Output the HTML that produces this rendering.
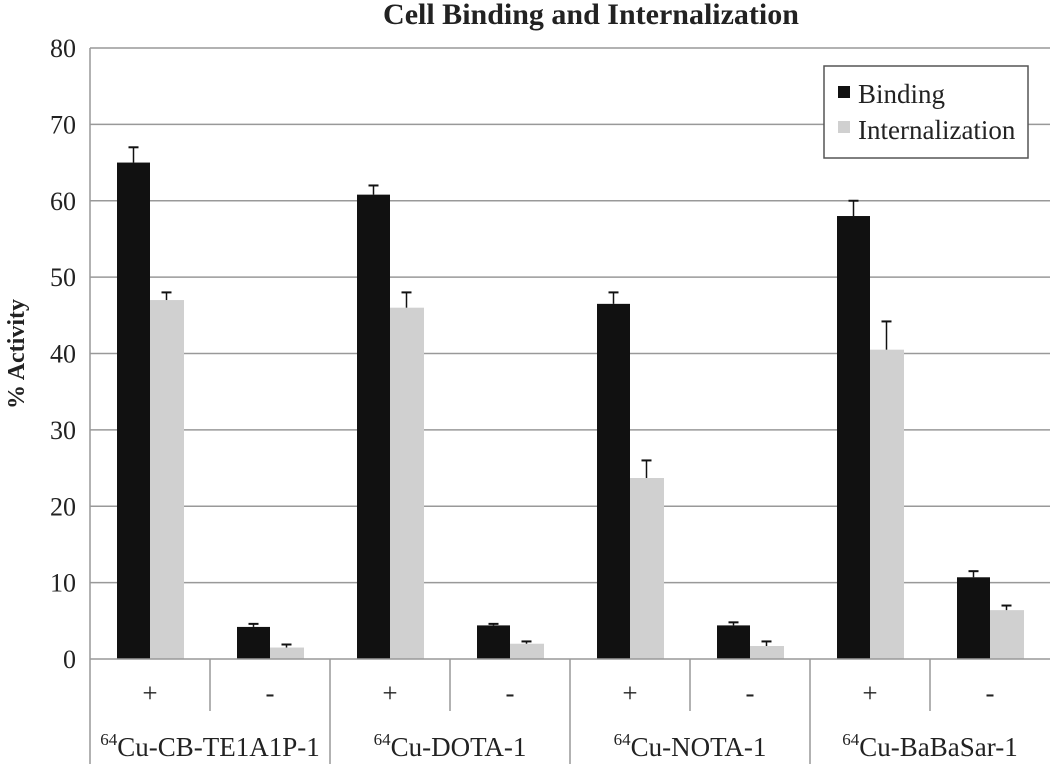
<!DOCTYPE html>
<html><head><meta charset="utf-8"><style>
body{margin:0;background:#fff}
svg text{font-family:"Liberation Serif",serif;fill:#222}
</style></head><body>
<svg id="c" width="1050" height="764" xmlns="http://www.w3.org/2000/svg">
<text x="591" y="24" font-size="30" font-weight="bold" text-anchor="middle">Cell Binding and Internalization</text>
<text transform="translate(24,354) rotate(-90)" font-size="24" font-weight="bold" text-anchor="middle">% Activity</text>
<g id="grid"></g><g id="bars"></g><g id="axes"></g>
<g>
<rect x="824" y="66" width="204" height="92" fill="#fff" stroke="#555" stroke-width="1.5"/>
<rect x="838" y="86" width="12" height="12" fill="#111"/>
<text x="858" y="103" font-size="27">Binding</text>
<rect x="838" y="121" width="12" height="12" fill="#d0d0d0"/>
<text x="858" y="139" font-size="27">Internalization</text>
</g>
</svg>
<script>
const subLabels=["+","-","+","-","+","-","+","-"];
const groupLabels=["Cu-CB-TE1A1P-1","Cu-DOTA-1","Cu-NOTA-1","Cu-BaBaSar-1"];
const binding=[65,4.2,60.8,4.4,46.5,4.4,58,10.7];
const bindingErr=[2,0.4,1.2,0.2,1.5,0.4,2,0.8];
const intern=[47,1.5,46,2,23.7,1.7,40.5,6.4];
const internErr=[1,0.4,2,0.3,2.3,0.6,3.7,0.6];
const yTicks=[0,10,20,30,40,50,60,70,80];
const NS="http://www.w3.org/2000/svg";
const X0=90,X1=1050,Y0=659,Y80=48;
const y=v=>Y0-(Y0-Y80)*v/80;
const cw=(X1-X0)/subLabels.length;
const xc=i=>X0+cw*(i+0.5);
function mk(p,t,a){const e=document.createElementNS(NS,t);for(const k in a)e.setAttribute(k,a[k]);document.getElementById(p).appendChild(e);return e;}
yTicks.forEach(v=>{
 if(v>0){const l=mk('grid','line',{x1:X0,x2:X1,y1:y(v),y2:y(v),stroke:'#999','stroke-width':1.5});
 
 }
 const t=mk('axes','text',{x:X0-14,y:y(v)+9,'font-size':26,'text-anchor':'end'});t.textContent=v;
 
 
});
mk('axes','line',{x1:X0,x2:X0,y1:Y80,y2:764,stroke:'#999','stroke-width':1.5});
mk('axes','line',{x1:X0,x2:X1,y1:Y0,y2:Y0,stroke:'#999','stroke-width':1.5});
subLabels.forEach((s,i)=>{
 const bw=33,cx=xc(i);
 const b=mk('bars','rect',{x:cx-bw,y:y(binding[i]),width:bw,height:Y0-y(binding[i]),fill:'#111'});
 
 
 const g=mk('bars','rect',{x:cx,y:y(intern[i]),width:bw+1,height:Y0-y(intern[i]),fill:'#d0d0d0'});
 
 
 [[cx-bw/2,binding[i],bindingErr[i]],[cx+bw/2,intern[i],internErr[i]]].forEach(([ex,v,e])=>{
  mk('bars','line',{x1:ex,x2:ex,y1:y(v),y2:y(v+e),stroke:'#111','stroke-width':1.5});
  mk('bars','line',{x1:ex-5,x2:ex+5,y1:y(v+e),y2:y(v+e),stroke:'#111','stroke-width':2});
 });
 const t=mk('axes','text',{x:cx,y:702,'font-size':27,'text-anchor':'middle'});t.textContent=s;
 
 
 const sx=X0+cw*(i+1);
 if(i%2===0) mk('axes','line',{x1:sx,x2:sx,y1:Y0,y2:711,stroke:'#999','stroke-width':1.5});
 else if(i<subLabels.length-1) mk('axes','line',{x1:sx,x2:sx,y1:Y0,y2:764,stroke:'#999','stroke-width':1.5});
});
groupLabels.forEach((g,j)=>{
 const t=mk('axes','text',{x:X0+cw*(2*j+1),y:756,'font-size':27,'text-anchor':'middle'});
 t.innerHTML='<tspan font-size="17" dy="-11">64</tspan><tspan dy="11">'+g+'</tspan>';
 
 
});
</script>
</body></html>
